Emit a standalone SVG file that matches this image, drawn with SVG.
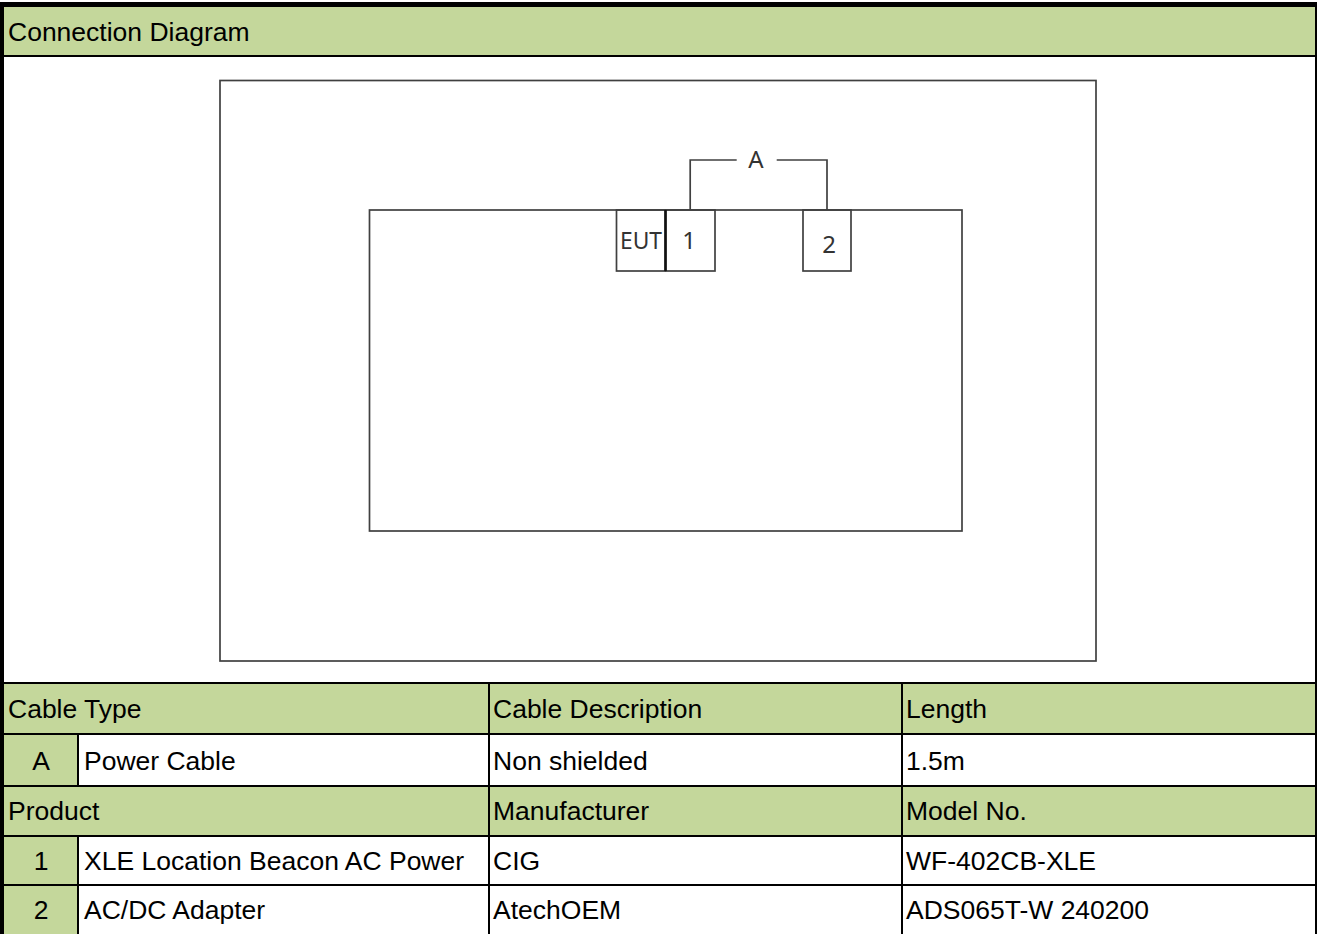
<svg xmlns="http://www.w3.org/2000/svg" width="1317" height="934" viewBox="0 0 1317 934">
<style>
.g{fill:#C4D79B}
.grid{stroke:#000;stroke-width:2;fill:none}
.t{font-family:"Liberation Sans",Arial,sans-serif;font-size:26.5px;fill:#000}
.d{fill:none;stroke:#404040;stroke-width:1.7}
.dt{font-family:"Noto Sans","DejaVu Sans",sans-serif;font-size:24px;fill:#333}
.c{fill:none;stroke:#404040;stroke-width:1.7}
</style>
<rect x="0" y="0" width="1317" height="934" fill="#fff"/>
<g id="header">
<rect class="g" x="4" y="7" width="1311" height="48"/>
<text class="t" x="8" y="41">Connection Diagram</text>
</g>
<g id="room">
<rect class="d" x="220" y="80.5" width="876" height="580.5"/>
</g>
<g id="table-area">
<rect class="d" x="369.5" y="210" width="592.5" height="321"/>
</g>
<g id="eut">
<rect class="d" x="616.5" y="210" width="49" height="61"/>
<text class="dt" x="641" y="249" text-anchor="middle" textLength="42" lengthAdjust="spacingAndGlyphs">EUT</text>
</g>
<g id="node1">
<rect class="d" x="665.5" y="210" width="49.5" height="61"/>
<line x1="665.5" y1="210" x2="665.5" y2="271" stroke="#111" stroke-width="2.5"/>
<text class="dt" x="689" y="249" text-anchor="middle">1</text>
</g>
<g id="node2">
<rect class="d" x="803" y="210" width="48" height="61"/>
<text class="dt" x="829" y="253" text-anchor="middle">2</text>
</g>
<g id="connectors">
<polyline class="c" points="690.2,210 690.2,160 736.7,160"/>
<polyline class="c" points="776.7,160 827,160 827,210"/>
<text class="dt" x="756" y="168" text-anchor="middle">A</text>
</g>
<g id="table">
<rect class="g" x="4" y="683" width="1311" height="51"/>
<rect class="g" x="4" y="734" width="74" height="52"/>
<rect class="g" x="4" y="786" width="1311" height="50"/>
<rect class="g" x="4" y="836" width="74" height="49"/>
<rect class="g" x="4" y="885" width="74" height="49"/>
<g class="grid">
<line x1="0" y1="683" x2="1317" y2="683"/>
<line x1="0" y1="734" x2="1317" y2="734"/>
<line x1="0" y1="786" x2="1317" y2="786"/>
<line x1="0" y1="836" x2="1317" y2="836"/>
<line x1="0" y1="885" x2="1317" y2="885"/>
<line x1="78" y1="734" x2="78" y2="786"/>
<line x1="78" y1="836" x2="78" y2="934"/>
<line x1="489" y1="683" x2="489" y2="934"/>
<line x1="902" y1="683" x2="902" y2="934"/>
</g>
<text class="t" x="8" y="718">Cable Type</text>
<text class="t" x="493" y="718">Cable Description</text>
<text class="t" x="906" y="718">Length</text>
<text class="t" x="41" y="770" text-anchor="middle">A</text>
<text class="t" x="84" y="770">Power Cable</text>
<text class="t" x="493" y="770">Non shielded</text>
<text class="t" x="906" y="770">1.5m</text>
<text class="t" x="8" y="820">Product</text>
<text class="t" x="493" y="820">Manufacturer</text>
<text class="t" x="906" y="820">Model No.</text>
<text class="t" x="41" y="870" text-anchor="middle">1</text>
<text class="t" x="84" y="870">XLE Location Beacon AC Power</text>
<text class="t" x="493" y="870">CIG</text>
<text class="t" x="906" y="870">WF-402CB-XLE</text>
<text class="t" x="41" y="919" text-anchor="middle">2</text>
<text class="t" x="84" y="919">AC/DC Adapter</text>
<text class="t" x="493" y="919">AtechOEM</text>
<text class="t" x="906" y="919">ADS065T-W 240200</text>
</g>
<g id="frame">
<rect x="0" y="2" width="1317" height="5" fill="#000"/>
<rect x="0" y="2" width="4" height="932" fill="#000"/>
<rect x="1315" y="2" width="2" height="932" fill="#000"/>
<rect x="0" y="55" width="1317" height="2" fill="#000"/>
</g>
</svg>
